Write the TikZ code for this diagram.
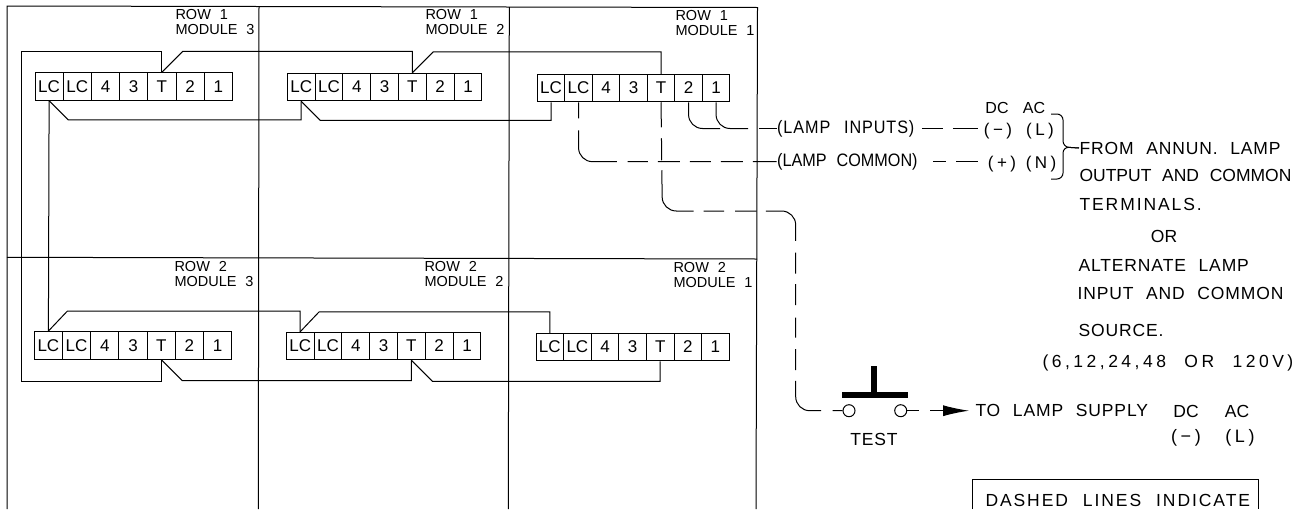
\documentclass[tikz,border=0pt]{standalone}
\usepackage{fontspec}
\setmainfont[WordSpace=2.2]{Liberation Sans}
\newfontfamily\spreada[WordSpace=2.2,LetterSpace=5]{Liberation Sans}
\newfontfamily\spreadb[WordSpace=2.2,LetterSpace=11]{Liberation Sans}
\newfontfamily\spreadc[WordSpace=2.2,LetterSpace=20]{Liberation Sans}
\newfontfamily\tallfont[WordSpace=2.2,FakeStretch=0.9]{Liberation Sans}
\newfontfamily\tallspread[WordSpace=2.2,FakeStretch=0.9,LetterSpace=5]{Liberation Sans}
\usetikzlibrary{arrows.meta}
\tikzset{every picture/.style={x=1pt,y=-1pt,line width=1pt},
  cell/.style={draw,inner sep=0pt,minimum height=27.5pt,font=\fontsize{17}{17}\selectfont},
  modlabel/.style={anchor=west,align=left,inner sep=0pt,font=\fontsize{14.5}{15}\selectfont},
  textlabel/.style={anchor=west,inner sep=0pt,font=\fontsize{17.5}{18}\selectfont},
  midlabel/.style={inner sep=0pt,font=\fontsize{16}{16}\selectfont},
  lamplabel/.style={anchor=west,inner sep=0pt,font=\fontsize{18}{18}\selectfont},
  parenlabel/.style={inner sep=0pt,font=\fontsize{17}{17}\selectfont\spreadc},
  contact/.style={draw,circle,inner sep=0pt,minimum size=12pt},
  blackbar/.style={fill=black,inner sep=0pt}}

\begin{document}
\begin{tikzpicture}
            \useasboundingbox (0,0) rectangle (1293,509);

            \draw (7,509) -- (7,6) -- (757.5,7.5) -- (756,509);
            \draw (259,6) -- (258.3,509);
            \draw (509.3,7) -- (508.3,509);
            \draw (7,257.3) -- (757,259);

            \foreach \strip/\x/\y/\w in {r1m3/35/86.5/28.2, r1m2/287.3/87/27.8, r1m1/537.3/88/27.5,
                                         r2m3/34.3/345.3/28.2, r2m2/286.3/346/27.8, r2m1/536/347/27.6}
              \foreach \t [count=\i] in {LC,LC,4,3,T,2,1}
                \node[cell, minimum width=\w pt] (\strip c\i) at ({\x+\w*(\i-0.5)},\y) {\t};

            \node[modlabel] (lab13) at (175,22.5) {ROW 1\\MODULE 3};
            \node[modlabel] (lab12) at (425,22.5) {ROW 1\\MODULE 2};
            \node[modlabel] (lab11) at (675,23) {ROW 1\\MODULE 1};
            \node[modlabel] (lab23) at (174,274) {ROW 2\\MODULE 3};
            \node[modlabel] (lab22) at (424,274) {ROW 2\\MODULE 2};
            \node[modlabel] (lab21) at (673,275) {ROW 2\\MODULE 1};

            \coordinate (looptop) at (21,51);
            \coordinate (loopbot) at (21,381);
            \draw (r1m3c5.north) |- (looptop) -- (loopbot) -| (r2m3c5.south);
            \draw (r1m3c1.south) -- (r2m3c1.north);

            \foreach \from/\to in {r1m3c5/r1m2c5, r1m2c5/r1m1c5}
              \draw (\from.north) -- ++(21,-21) -| (\to.north);
            \foreach \from/\to in {r1m3c1/r1m2c1, r1m2c1/r1m1c1}
              \draw (\from.south) -- ++(19,19) -| (\to.south);
            \foreach \from/\to in {r2m3c1/r2m2c1, r2m2c1/r2m1c1}
              \draw (\from.north) -- ++(19,-20) -| (\to.north);
            \foreach \from/\to in {r2m3c5/r2m2c5, r2m2c5/r2m1c5}
              \draw (\from.south) -- ++(21,21) -| (\to.south);

            \node[lamplabel] (lampin) at (776.7,128.5) {\tallspread(LAMP\hspace{2pt} INPUTS)};
            \node[lamplabel] (lampcom) at (776.7,161.7) {\tallfont(LAMP COMMON)};
            \node[midlabel] (dctop) at (997,108) {DC};
            \node[midlabel] (actop) at (1034,108) {AC};
            \node[parenlabel] (minus) at (998,131) {(−)};
            \node[parenlabel] (ell) at (1040,131) {(L)};
            \node[parenlabel] (plus) at (1002,164) {(+)};
            \node[parenlabel] (enn) at (1041,164) {(N)};

            \coordinate (in2) at (720,128.5);
            \coordinate (in1) at (748,128.5);
            \draw[rounded corners=14pt] (r1m1c6.south) |- (in2);
            \draw[rounded corners=14pt] (r1m1c7.south) |- (in1);
            \draw (lampin.west) -- ++(-18,0);
            \draw[rounded corners=14pt, dash pattern=on 16pt off 12pt on 63.7pt off 10.7pt on 20.3pt off 10pt on 22pt off 10pt on 21pt off 10pt on 22pt off 10pt on 30pt off 0pt]
              (r1m1c2.south) |- (lampcom.west);
            \draw[dash pattern=on 21pt off 10pt on 25pt off 20pt, shorten <=7pt, shorten >=2pt] (lampin.east) -- (minus.west |- lampin.east);
            \draw[dash pattern=on 13pt off 10pt on 22pt off 20pt, shorten <=15pt] (lampcom.east) -- (plus.west |- lampcom.east);

            \node[textlabel] (from) at (1079,148) {\spreada FROM ANNUN. LAMP};
            \node[textlabel] (output) at (1079,175) {OUTPUT AND COMMON};
            \node[textlabel] (term) at (1079,204) {\spreadb TERMINALS.};
            \node[textlabel, anchor=center] (or) at (1164,236) {OR};
            \node[textlabel] (alt) at (1078,265) {\spreada ALTERNATE LAMP};
            \node[textlabel] (input) at (1077,293) {\spreada INPUT AND COMMON};
            \node[textlabel] (source) at (1078,330) {\spreada SOURCE.};
            \node[textlabel] (volts) at (1042,363) {\spreadc (6,12,24,48 OR 120V)};

            \coordinate (bracet) at (1051,114);
            \coordinate (braceb) at (1051,179);
            \coordinate (bracem) at (1063,147);
            \draw[rounded corners=6pt] (bracet) -| (bracem) -- (from.west);
            \draw[rounded corners=6pt] (from.west) -- (bracem) |- (braceb);

            \node[contact] (sw1) at (849,410.7) {};
            \node[contact] (sw2) at (900.7,410.7) {};
            \node[blackbar, minimum width=66pt, minimum height=6.5pt] (bar) at (875,395) {};
            \node[blackbar, minimum width=6.5pt, minimum height=29pt] (stem) at (874,380.5) {};
            \node[midlabel, font=\fontsize{17.5}{18}\selectfont\spreada] (test) at (874,439) {TEST};

            \coordinate (bendt) at (662.3,211);
            \coordinate (bendr) at (795.7,211);
            \coordinate (bendb) at (795.7,410.7);
            \draw[rounded corners=14pt, dash pattern=on 25pt off 11pt on 22pt off 10pt on 66pt off 10pt on 20.6pt off 11pt on 21.4pt off 9.3pt on 53.7pt off 11.7pt on 21pt off 10.6pt on 21pt off 12.4pt on 20pt off 11.6pt on 21pt off 10.7pt on 49pt off 11.7pt on 30pt off 0pt]
              (r1m1c5.south) -- (bendt) -- (bendr) -- (bendb) -- (sw1.west);

            \node[textlabel] (tolamp) at (975,410.7) {\spreada TO LAMP SUPPLY};
            \node[textlabel, anchor=center] (dcbot) at (1186,411) {DC};
            \node[textlabel, anchor=center] (acbot) at (1237,411) {AC};
            \node[parenlabel, font=\fontsize{18}{18}\selectfont\spreadc] (minusbot) at (1186,438) {(−)};
            \node[parenlabel, font=\fontsize{18}{18}\selectfont\spreadc] (ellbot) at (1240,438) {(L)};
            \draw[dash pattern=on 12pt off 11pt on 50pt, shorten >=6pt, -{Latex[length=26pt,width=11pt]}] (sw2.east) -- (tolamp.west);

            \coordinate (boxl) at (972,509);
            \coordinate (boxr) at (1258,509);
            \draw (boxl) |- (1258,479) -- (boxr);
            \node[textlabel] (dashnote) at (985,500) {\spreadb DASHED LINES INDICATE};
\end{tikzpicture}
\end{document}
